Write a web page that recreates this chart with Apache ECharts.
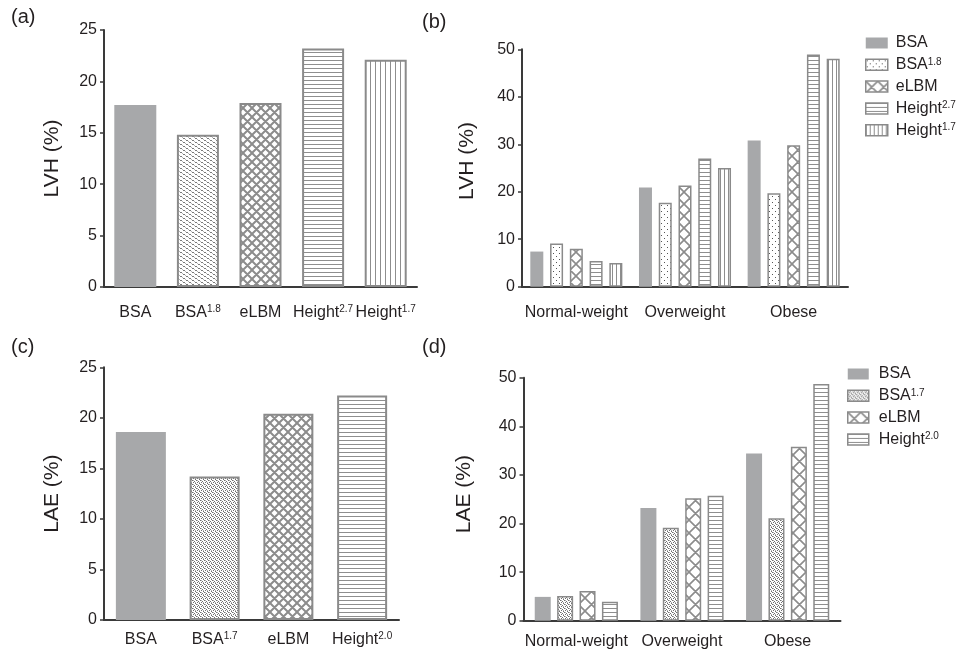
<!DOCTYPE html>
<html><head><meta charset="utf-8">
<script src="https://cdn.jsdelivr.net/npm/echarts@6/dist/echarts.min.js"></script>
<style>html,body{margin:0;padding:0;background:#fff}#c{width:958px;height:652px}</style>
</head><body><div id="c"></div><script>
// ---------- data ----------
const catsA = ['BSA', 'BSA^1.8', 'eLBM', 'Height^2.7', 'Height^1.7'];
const valsA = [17.7, 14.8, 17.9, 23.2, 22.1];

const groupsB = ['Normal-weight', 'Overweight', 'Obese'];
const namesB = ['BSA', 'BSA^1.8', 'eLBM', 'Height^2.7', 'Height^1.7'];
const bBSA   = [7.4, 20.9, 30.8];
const bBSA18 = [9.1, 17.7, 19.7];
const bELBM  = [8.0, 21.3, 29.8];
const bH27   = [5.4, 27.0, 48.9];
const bH17   = [5.0, 25.0, 48.0];

const catsC = ['BSA', 'BSA^1.7', 'eLBM', 'Height^2.0'];
const valsC = [18.6, 14.2, 20.4, 22.2];

const groupsD = ['Normal-weight', 'Overweight', 'Obese'];
const namesD = ['BSA', 'BSA^1.7', 'eLBM', 'Height^2.0'];
const dBSA   = [4.9, 23.2, 34.4];
const dBSA17 = [5.1, 19.1, 21.1];
const dELBM  = [6.1, 25.2, 35.8];
const dH20   = [3.9, 25.7, 48.7];

const panelLabels = ['(a)', '(b)', '(c)', '(d)'];
const yNames = ['LVH (%)', 'LVH (%)', 'LAE (%)', 'LAE (%)'];

// ---------- patterns ----------
const FONT = 'Liberation Sans, Arial, Helvetica, sans-serif';
const TXT = '#231f20';
const AX = '#3a3a3a';
const GRAY = '#a7a8aa';
const EDGE = '#8a8a8a';

function mk(w, h, draw) {
  const c = document.createElement('canvas');
  c.width = w; c.height = h;
  const g = c.getContext('2d');
  g.fillStyle = '#fff'; g.fillRect(0, 0, w, h);
  draw(g, w, h);
  return { image: c, repeat: 'repeat' };
}
function hLines(pitch, col) {
  return mk(4, pitch, g => { g.fillStyle = col || '#8e8e8e'; g.fillRect(0, 0, 4, 1); });
}
function vLines(pitch, col) {
  return mk(pitch, 4, g => { g.fillStyle = col || '#8e8e8e'; g.fillRect(0, 0, 1, 4); });
}
function cross(s, lw) {
  return mk(s, s, g => {
    g.strokeStyle = '#8c8c8c'; g.lineWidth = lw;
    g.beginPath();
    for (let k = -1; k <= 1; k++) {
      g.moveTo(k * s - s, -s); g.lineTo(k * s + 2 * s, 2 * s);
      g.moveTo(k * s + 2 * s, -s); g.lineTo(k * s - s, 2 * s);
    }
    g.stroke();
  });
}
function dots(w, h, pts, col) {
  return mk(w, h, g => {
    pts.forEach(p => { g.fillStyle = p[2] || col; g.fillRect(p[0], p[1], 1, 1); });
  });
}
const speckleA = dots(6, 4, [[0,0],[1,0],[3,2],[4,2],[2,1,'#b5b5b5'],[5,3,'#b5b5b5']], '#7a7a7a');
const sparseB  = dots(6, 6, [[1,1],[4,4]], '#555');
const speckleC = dots(4, 4, [[0,0],[2,1],[1,2],[3,3],[1,0,'#b0b0b0'],[3,2,'#b0b0b0']], '#6e6e6e');

const solid = { color: GRAY, borderWidth: 0 };
function pat(p, bw) { return { color: p, borderColor: EDGE, borderWidth: bw || 2 }; }

const stylesA = [solid, pat(speckleA), pat(cross(9, 2)), pat(hLines(4)), pat(vLines(5))];
const stylesB = [solid, pat(sparseB, 1.5), pat(cross(12, 1.6), 1.5), pat(hLines(4), 1.5), pat(vLines(4), 1.5)];
const stylesC = [solid, pat(speckleC), pat(cross(9, 2)), pat(hLines(4))];
const stylesD = [solid, pat(speckleC, 1.5), pat(cross(13, 1.6), 1.5), pat(hLines(4), 1.5)];

// ---------- helpers ----------
function sup(v) {
  const parts = String(v).split('^');
  return parts[1] ? '{b|' + parts[0] + '}{s|' + parts[1] + '}' : '{b|' + parts[0] + '}';
}
function richSet(fs) {
  return {
    b: { fontSize: fs, fontFamily: FONT, color: TXT, lineHeight: 18 },
    s: { fontSize: 10, fontFamily: FONT, color: TXT, lineHeight: 10, verticalAlign: 'top' }
  };
}
function xAx(idx, data, margin) {
  return {
    type: 'category', gridIndex: idx, data: data,
    axisLine: { lineStyle: { color: AX, width: 2 } },
    axisTick: { alignWithLabel: true, length: 6, lineStyle: { color: AX, width: 1.5 } },
    axisLabel: { margin: margin, formatter: sup, rich: richSet(16), interval: 0 },
    splitLine: { show: false }
  };
}
function yAx(idx, max, interval, name, gap, pad) {
  return {
    type: 'value', gridIndex: idx, min: 0, max: max, interval: interval,
    name: name, nameLocation: 'middle', nameGap: gap,
    nameTextStyle: { fontSize: 21, fontFamily: FONT, color: TXT, padding: [0, 0, 0, pad || 0] },
    axisLine: { show: true, lineStyle: { color: AX, width: 2 } },
    axisTick: { show: true, length: 4, lineStyle: { color: AX, width: 1.5 } },
    axisLabel: { fontSize: 16, fontFamily: FONT, color: TXT, margin: 7 },
    splitLine: { show: false }
  };
}

// ---------- series ----------
const series = [];
series.push({
  type: 'bar', name: 'LVH', xAxisIndex: 0, yAxisIndex: 0, barWidth: 42,
  data: valsA.map((v, i) => ({ value: v, itemStyle: stylesA[i] }))
});
const dataB = [bBSA, bBSA18, bELBM, bH27, bH17];
namesB.forEach((n, i) => series.push({
  type: 'bar', name: n, xAxisIndex: 1, yAxisIndex: 1, data: dataB[i],
  barWidth: 13, barGap: '52%', itemStyle: stylesB[i]
}));
series.push({
  type: 'bar', name: 'LAE', xAxisIndex: 2, yAxisIndex: 2, barWidth: 50,
  data: valsC.map((v, i) => ({ value: v, itemStyle: stylesC[i] }))
});
const dataD = [dBSA, dBSA17, dELBM, dH20];
namesD.forEach((n, i) => series.push({
  type: 'bar', name: n, xAxisIndex: 3, yAxisIndex: 3, data: dataD[i],
  barWidth: 16, barGap: '40%', itemStyle: stylesD[i]
}));

function legendFor(names, styles, left, top, iw, tpad) {
  return {
    orient: 'vertical', left: left, top: top, itemWidth: iw, itemHeight: 11, itemGap: 5.8,
    padding: 0, icon: 'rect', selectedMode: false,
    data: names.map((n, i) => ({ name: n, icon: 'rect', itemStyle: Object.assign({}, styles[i], { borderWidth: styles[i].borderWidth ? 1.5 : 0 }) })),
    formatter: sup,
    textStyle: {
      padding: [0, 0, 0, tpad],
      rich: {
        b: { fontSize: 16, fontFamily: FONT, color: TXT, lineHeight: 16 },
        s: { fontSize: 10, fontFamily: FONT, color: TXT, lineHeight: 9, verticalAlign: 'top' }
      }
    }
  };
}

const titlePos = [[11, 7], [422, 12], [11, 337], [422, 337]];

const option = {
  animation: false,
  backgroundColor: '#fff',
  title: panelLabels.map((t, i) => ({
    text: t, left: titlePos[i][0], top: titlePos[i][1], padding: 0,
    textStyle: { fontSize: 20, fontWeight: 'normal', fontFamily: FONT, color: TXT }
  })),
  grid: [
    { left: 104, top: 30, width: 313, height: 257 },
    { left: 522, top: 49.3, width: 326, height: 237.4 },
    { left: 104, top: 367.3, width: 295, height: 252.7 },
    { left: 523.5, top: 377.7, width: 317, height: 243 }
  ],
  xAxis: [xAx(0, catsA, 17), xAx(1, groupsB, 17), xAx(2, catsC, 11), xAx(3, groupsD, 12)],
  yAxis: [
    yAx(0, 25, 5, yNames[0], 41),
    yAx(1, 50, 10, yNames[1], 44, 14),
    yAx(2, 25, 5, yNames[2], 41),
    yAx(3, 50, 10, yNames[3], 49, 10)
  ],
  legend: [
    legendFor(namesB, stylesB, 865, 35, 22, 3),
    legendFor(namesD, stylesD, 847, 366, 21, 5)
  ],
  series: series
};
const chart = echarts.init(document.getElementById('c'), null, { renderer: 'canvas' });
chart.setOption(option);
</script></body></html>
